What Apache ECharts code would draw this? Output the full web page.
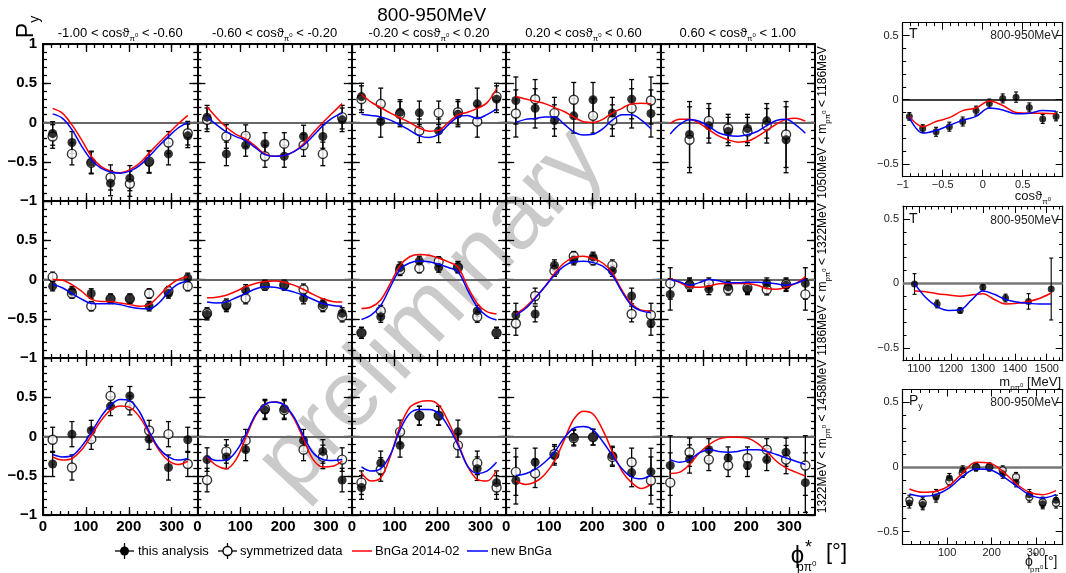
<!DOCTYPE html>
<html>
<head>
<meta charset="utf-8">
<script src="https://cdn.jsdelivr.net/npm/echarts@6/dist/echarts.min.js"></script>
<style>html,body{margin:0;padding:0;background:#fff}#chart{width:1066px;height:573px}</style>
</head>
<body>
<div id="chart"></div>
<script>
// ---------- data ----------
const phiBins = [22.5, 67.5, 112.5, 157.5, 202.5, 247.5, 292.5, 337.5];
const phiCurve = [22.5, 45, 67.5, 90, 112.5, 135, 157.5, 180, 202.5, 225, 247.5, 270, 292.5, 315, 337.5];
const cosEdges = ['-1.00', '-0.60', '-0.20', '0.20', '0.60', '1.00'];
const massEdges = ['1050', '1186', '1322', '1458'];

// 1050MeV < m < 1186MeV
const thisR1 = [
  [-0.14, -0.255, -0.505, -0.773, -0.709, -0.505, -0.40, -0.17],
  [0.068, -0.40, -0.29, -0.27, -0.43, -0.175, -0.178, 0.034],
  [0.33, 0.013, 0.13, 0.123, -0.106, 0.106, 0.238, 0.297],
  [0.28, 0.18, 0.025, 0.085, 0.29, 0.12, 0.297, 0.115],
  [null, -0.153, -0.042, -0.115, -0.076, 0.021, -0.22, null]
];
const symR1 = [
  [-0.178, -0.40, -0.514, -0.70, -0.78, -0.497, -0.255, -0.136],
  [0.034, -0.178, -0.17, -0.43, -0.27, -0.29, -0.40, 0.068],
  [0.297, 0.238, 0.106, -0.106, 0.123, 0.13, 0.013, 0.33],
  [0.115, 0.297, 0.12, 0.29, 0.085, 0.025, 0.18, 0.28],
  [null, -0.22, 0.021, -0.076, -0.115, -0.042, -0.153, null]
];
const errR1 = [
  [0.15, 0.14, 0.14, 0.16, 0.16, 0.14, 0.14, 0.15],
  [0.15, 0.15, 0.14, 0.14, 0.14, 0.14, 0.15, 0.15],
  [0.17, 0.2, 0.16, 0.15, 0.15, 0.16, 0.2, 0.17],
  [0.3, 0.25, 0.2, 0.22, 0.22, 0.2, 0.25, 0.3],
  [null, 0.42, 0.22, 0.18, 0.18, 0.22, 0.42, null]
];
const redR1 = [
  [0.18, 0.12, -0.03, -0.22, -0.43, -0.56, -0.62, -0.64, -0.60, -0.52, -0.39, -0.26, -0.14, -0.02, 0.09],
  [0.20, 0.06, -0.06, -0.15, -0.21, -0.30, -0.40, -0.43, -0.42, -0.37, -0.27, -0.13, 0.00, 0.12, 0.24],
  [0.36, 0.26, 0.19, 0.12, 0.06, 0.00, -0.07, -0.11, -0.10, 0.00, 0.10, 0.13, 0.18, 0.25, 0.43],
  [0.33, 0.30, 0.27, 0.24, 0.19, 0.14, 0.07, 0.01, 0.00, 0.04, 0.12, 0.18, 0.24, 0.245, 0.24],
  [-0.01, 0.04, 0.04, -0.01, -0.09, -0.17, -0.22, -0.25, -0.24, -0.18, -0.10, -0.02, 0.04, 0.055, 0.017]
];
const blueR1 = [
  [0.11, 0.055, -0.09, -0.30, -0.475, -0.58, -0.63, -0.645, -0.62, -0.55, -0.43, -0.30, -0.18, -0.07, 0.0],
  [0.07, -0.03, -0.12, -0.18, -0.23, -0.32, -0.41, -0.43, -0.42, -0.37, -0.29, -0.17, -0.04, 0.06, 0.12],
  [0.106, 0.09, 0.07, 0.03, -0.03, -0.10, -0.17, -0.19, -0.15, -0.03, 0.07, 0.09, 0.05, 0.10, 0.17],
  [0.0, 0.04, 0.05, 0.07, 0.07, -0.02, -0.12, -0.16, -0.15, -0.08, 0.03, 0.10, 0.10, 0.03, -0.08],
  [-0.145, -0.025, 0.034, 0.017, -0.05, -0.13, -0.165, -0.175, -0.157, -0.115, -0.04, 0.025, 0.04, -0.03, -0.136]
];

// 1186MeV < m < 1322MeV
const thisR2 = [
  [-0.085, -0.148, -0.178, -0.246, -0.246, -0.34, -0.178, 0.021],
  [-0.445, -0.34, -0.136, -0.068, -0.076, -0.24, -0.318, -0.43],
  [-0.68, -0.475, 0.153, 0.237, 0.153, 0.16, -0.4, -0.68],
  [-0.453, -0.44, 0.18, 0.246, 0.288, 0.11, -0.21, -0.56],
  [-0.19, -0.06, -0.123, -0.093, -0.123, -0.05, -0.072, -0.05]
];
const symR2 = [
  [0.034, -0.178, -0.34, -0.246, -0.246, -0.178, -0.148, -0.085],
  [-0.43, -0.318, -0.24, -0.076, -0.068, -0.127, -0.34, -0.47],
  [-0.68, -0.4, 0.12, 0.144, 0.23, 0.153, -0.475, -0.68],
  [-0.56, -0.21, 0.11, 0.297, 0.246, 0.18, -0.44, -0.453],
  [-0.05, -0.072, -0.05, -0.127, -0.106, -0.127, -0.06, -0.19]
];
const errR2 = [
  [0.06, 0.06, 0.06, 0.06, 0.06, 0.06, 0.06, 0.06],
  [0.07, 0.07, 0.07, 0.06, 0.06, 0.07, 0.07, 0.07],
  [0.07, 0.07, 0.07, 0.06, 0.06, 0.07, 0.07, 0.07],
  [0.15, 0.1, 0.07, 0.06, 0.06, 0.07, 0.1, 0.15],
  [0.2, 0.08, 0.07, 0.07, 0.07, 0.07, 0.08, 0.2]
];
const redR2 = [
  [0.0, -0.01, -0.065, -0.15, -0.25, -0.28, -0.28, -0.30, -0.32, -0.34, -0.32, -0.21, -0.085, 0.0, 0.034],
  [-0.233, -0.225, -0.20, -0.15, -0.093, -0.05, -0.025, -0.02, -0.034, -0.072, -0.127, -0.19, -0.246, -0.28, -0.288],
  [-0.37, -0.35, -0.26, -0.05, 0.18, 0.29, 0.32, 0.31, 0.27, 0.225, 0.16, -0.093, -0.305, -0.41, -0.44],
  [-0.44, -0.35, -0.23, -0.093, 0.076, 0.21, 0.28, 0.297, 0.267, 0.21, 0.085, -0.136, -0.31, -0.39, -0.40],
  [0.013, -0.04, -0.093, -0.10, -0.085, -0.055, -0.05, -0.05, -0.05, -0.072, -0.115, -0.123, -0.10, -0.05, 0.034]
];
const blueR2 = [
  [-0.06, -0.105, -0.178, -0.25, -0.305, -0.31, -0.305, -0.32, -0.35, -0.37, -0.375, -0.30, -0.16, -0.06, -0.02],
  [-0.288, -0.30, -0.284, -0.233, -0.178, -0.12, -0.093, -0.10, -0.127, -0.16, -0.20, -0.254, -0.305, -0.33, -0.34],
  [-0.51, -0.455, -0.33, -0.093, 0.127, 0.21, 0.237, 0.225, 0.195, 0.153, 0.10, -0.136, -0.35, -0.466, -0.517],
  [-0.453, -0.37, -0.24, -0.093, 0.055, 0.17, 0.225, 0.233, 0.216, 0.17, 0.055, -0.157, -0.33, -0.40, -0.424],
  [0.0, -0.03, -0.072, -0.04, 0.0, -0.017, -0.04, -0.04, -0.034, -0.034, -0.04, -0.055, -0.072, -0.05, 0.0]
];

// 1322MeV < m < 1458MeV
const thisR3 = [
  [-0.35, 0.03, 0.076, 0.386, 0.517, -0.034, -0.395, -0.042],
  [-0.294, -0.26, -0.168, 0.336, 0.353, -0.05, -0.19, -0.555],
  [-0.65, -0.336, -0.113, 0.265, 0.265, 0.059, -0.41, -0.588],
  [-0.56, -0.328, -0.244, -0.008, -0.008, -0.244, -0.46, -0.45],
  [-0.37, -0.286, -0.168, -0.273, -0.37, -0.294, -0.2, -0.588]
];
const symR3 = [
  [-0.042, -0.395, -0.034, 0.517, 0.395, 0.076, 0.03, -0.35],
  [-0.555, -0.19, -0.05, 0.353, 0.336, -0.168, -0.26, -0.294],
  [-0.588, -0.42, 0.059, 0.265, 0.265, -0.113, -0.336, -0.65],
  [-0.45, -0.47, -0.223, -0.02, -0.008, -0.26, -0.328, -0.56],
  [-0.588, -0.2, -0.294, -0.37, -0.273, -0.168, -0.294, -0.37]
];
const errR3 = [
  [0.16, 0.16, 0.13, 0.12, 0.12, 0.13, 0.16, 0.16],
  [0.15, 0.15, 0.14, 0.12, 0.12, 0.14, 0.15, 0.15],
  [0.15, 0.15, 0.15, 0.12, 0.12, 0.15, 0.15, 0.15],
  [0.3, 0.18, 0.12, 0.1, 0.1, 0.12, 0.18, 0.3],
  [0.38, 0.18, 0.14, 0.14, 0.14, 0.14, 0.18, 0.38]
];
const redR3 = [
  [-0.26, -0.30, -0.28, -0.17, 0.01, 0.20, 0.336, 0.39, 0.37, 0.25, 0.042, -0.17, -0.307, -0.357, -0.315],
  [-0.26, -0.37, -0.41, -0.294, -0.02, 0.26, 0.41, 0.44, 0.40, 0.23, -0.034, -0.294, -0.387, -0.38, -0.315],
  [-0.46, -0.567, -0.525, -0.25, 0.126, 0.37, 0.44, 0.454, 0.40, 0.19, -0.084, -0.378, -0.546, -0.567, -0.43],
  [-0.567, -0.61, -0.58, -0.483, -0.315, -0.05, 0.22, 0.323, 0.286, 0.084, -0.19, -0.44, -0.588, -0.664, -0.61],
  [-0.47, -0.454, -0.357, -0.21, -0.105, -0.034, -0.008, -0.008, -0.02, -0.084, -0.19, -0.315, -0.40, -0.454, -0.504]
];
const blueR3 = [
  [-0.23, -0.26, -0.245, -0.126, 0.05, 0.25, 0.40, 0.47, 0.454, 0.315, 0.063, -0.147, -0.26, -0.30, -0.28],
  [-0.25, -0.307, -0.30, -0.19, 0.02, 0.273, 0.41, 0.44, 0.40, 0.25, 0.008, -0.21, -0.294, -0.307, -0.294],
  [-0.387, -0.44, -0.41, -0.23, 0.084, 0.294, 0.345, 0.345, 0.294, 0.126, -0.105, -0.378, -0.47, -0.44, -0.328],
  [-0.496, -0.475, -0.42, -0.328, -0.20, -0.02, 0.105, 0.126, 0.084, -0.063, -0.244, -0.41, -0.517, -0.538, -0.49],
  [-0.294, -0.328, -0.294, -0.21, -0.168, -0.19, -0.20, -0.19, -0.168, -0.168, -0.19, -0.23, -0.273, -0.315, -0.357]
];

// T versus cos(theta)
const cosBins = [-0.917, -0.75, -0.583, -0.417, -0.25, -0.083, 0.083, 0.25, 0.417, 0.583, 0.75, 0.917];
const tCos = [-0.13, -0.225, -0.25, -0.21, -0.17, -0.085, -0.03, 0.01, 0.02, -0.06, -0.15, -0.13];
const tCosErr = [0.03, 0.03, 0.035, 0.035, 0.035, 0.035, 0.035, 0.035, 0.04, 0.035, 0.035, 0.035];
const tCosRed = [-0.13, -0.21, -0.17, -0.14, -0.085, -0.065, -0.01, -0.045, -0.10, -0.105, -0.105, -0.11];
const tCosBlue = [-0.14, -0.26, -0.24, -0.20, -0.16, -0.13, -0.065, -0.08, -0.11, -0.105, -0.085, -0.09];

// T versus invariant mass
const massBins = [1086, 1157, 1229, 1300, 1371, 1443, 1514];
const tMass = [-0.005, -0.16, -0.21, -0.031, -0.114, -0.14, -0.044];
const tMassErr = [0.08, 0.03, 0.02, 0.02, 0.03, 0.06, 0.24];
const massCurve = [1086, 1121, 1157, 1193, 1229, 1264, 1300, 1336, 1371, 1407, 1443, 1479, 1514];
const tMassRed = [-0.06, -0.065, -0.08, -0.09, -0.10, -0.09, -0.08, -0.125, -0.16, -0.155, -0.14, -0.115, -0.075];
const tMassBlue = [0.0, -0.11, -0.18, -0.21, -0.205, -0.13, -0.06, -0.085, -0.125, -0.145, -0.155, -0.16, -0.16];

// Py versus phi, integrated
const phiBins12 = [15, 45, 75, 105, 135, 165, 195, 225, 255, 285, 315, 345];
const pyPhi = [-0.278, -0.291, -0.232, -0.085, -0.026, 0.0, 0.0, -0.052, -0.119, -0.214, -0.284, -0.258];
const pyPhiSym = [-0.258, -0.278, -0.214, -0.11, -0.046, 0.0, 0.0, -0.026, -0.077, -0.232, -0.273, -0.278];
const pyPhiErr = [0.04, 0.04, 0.04, 0.035, 0.035, 0.03, 0.03, 0.035, 0.035, 0.04, 0.04, 0.04];
const pyPhiRed = [-0.17, -0.196, -0.188, -0.144, -0.046, 0.036, 0.031, -0.034, -0.129, -0.196, -0.214, -0.183];
const pyPhiBlue = [-0.209, -0.227, -0.214, -0.162, -0.072, -0.015, -0.021, -0.072, -0.144, -0.214, -0.24, -0.214];

// ---------- chart construction ----------
const FONT = '"Liberation Sans", Arial, Helvetica, sans-serif';
const grids = [], xAxes = [], yAxes = [], series = [], graphics = [];

function range(a, b, step) {
  const out = [];
  for (let v = a; v <= b + 1e-9; v += step) out.push(+v.toFixed(6));
  return out;
}
function minus(v) {
  if (v === 0) return '0';
  return v < 0 ? '\u2212' + String(Math.abs(v)) : String(v);
}

function addAxisSet(gi, dim, o) {
  const list = dim === 'x' ? xAxes : yAxes;
  const start = list.length;
  const pos = dim === 'x' ? ['bottom', 'top'] : ['left', 'right'];
  const line = { color: '#000', width: o.lineW };
  const tick = { color: '#000', width: o.tickW };
  const common = { gridIndex: gi, type: 'value', min: o.min, max: o.max, splitLine: { show: false }, silent: true };
  list.push(Object.assign({}, common, {
    position: pos[0], axisLine: { show: true, onZero: false, lineStyle: line },
    axisTick: { show: true, inside: true, length: o.majLen, customValues: o.major, lineStyle: tick },
    axisLabel: o.labels ? Object.assign({ show: true, customValues: o.labels, formatter: minus, margin: o.margin }, o.labelStyle) : { show: false }
  }));
  list.push(Object.assign({}, common, {
    position: pos[0], axisLine: { show: false, onZero: false },
    axisTick: { show: true, inside: true, length: o.minLen, customValues: o.minor, lineStyle: tick },
    axisLabel: { show: false }
  }));
  list.push(Object.assign({}, common, {
    position: pos[1], axisLine: { show: true, onZero: false, lineStyle: line },
    axisTick: { show: true, inside: true, length: o.majLen, customValues: o.major, lineStyle: tick },
    axisLabel: { show: false }
  }));
  list.push(Object.assign({}, common, {
    position: pos[1], axisLine: { show: false, onZero: false },
    axisTick: { show: true, inside: true, length: o.minLen, customValues: o.minor, lineStyle: tick },
    axisLabel: { show: false }
  }));
  return start;
}

function makeErrRender(cap, lw) {
  return function (params, api) {
    const x = api.value(0), y = api.value(1), e = api.value(2);
    const a = api.coord([x, y + e]), b = api.coord([x, y - e]);
    const st = { stroke: '#000', lineWidth: lw };
    return {
      type: 'group', children: [
        { type: 'line', shape: { x1: a[0], y1: a[1], x2: b[0], y2: b[1] }, style: st },
        { type: 'line', shape: { x1: a[0] - cap, y1: a[1], x2: a[0] + cap, y2: a[1] }, style: st },
        { type: 'line', shape: { x1: b[0] - cap, y1: b[1], x2: b[0] + cap, y2: b[1] }, style: st }
      ]
    };
  };
}

function pairs(xs, ys) {
  return xs.map((x, i) => (ys[i] == null ? null : [x, ys[i]])).filter(Boolean);
}
function triples(xs, ys, es) {
  return xs.map((x, i) => (ys[i] == null ? null : [x, ys[i], es[i]])).filter(Boolean);
}

function addPanelSeries(xi, yi, d, s) {
  const errData = triples(d.x, d.filled, d.err).concat(d.sym ? triples(d.x, d.sym, d.err) : []);
  series.push({
    type: 'custom', xAxisIndex: xi, yAxisIndex: yi, data: errData, z: 2, silent: true,
    renderItem: makeErrRender(s.cap, s.errW),
    markLine: {
      silent: true, symbol: 'none', z: 1, animation: false, label: { show: false },
      lineStyle: { color: s.zeroColor, width: s.zeroW, type: 'solid' }, data: [{ yAxis: 0 }]
    }
  });
  if (d.sym) {
    series.push({
      type: 'scatter', xAxisIndex: xi, yAxisIndex: yi, data: pairs(d.x, d.sym), z: 3, silent: true,
      symbol: 'circle', symbolSize: s.size, itemStyle: { color: '#fff', borderColor: '#000', borderWidth: 1.4 }
    });
  }
  series.push({
    type: 'scatter', xAxisIndex: xi, yAxisIndex: yi, data: pairs(d.x, d.filled), z: 4, silent: true,
    symbol: 'circle', symbolSize: s.size, itemStyle: { color: '#000' }
  });
  [[d.red, '#ff0000'], [d.blue, '#0000ff']].forEach(([ys, col]) => {
    series.push({
      type: 'line', xAxisIndex: xi, yAxisIndex: yi, data: pairs(d.cx, ys), z: 5, silent: true,
      smooth: 0.35, symbol: 'none', lineStyle: { color: col, width: 1.5 }
    });
  });
}

// main 3 x 5 panel matrix
const rows = [
  { filled: thisR1, sym: symR1, err: errR1, red: redR1, blue: blueR1 },
  { filled: thisR2, sym: symR2, err: errR2, red: redR2, blue: blueR2 },
  { filled: thisR3, sym: symR3, err: errR3, red: redR3, blue: blueR3 }
];
const P = { left: 43, top: 44, w: 154.4, h: 157 };
const mainLabelStyle = { fontSize: 15, fontWeight: 'bold', fontFamily: FONT, color: '#000' };

rows.forEach((row, r) => {
  for (let c = 0; c < 5; c++) {
    const gi = grids.length;
    grids.push({ left: P.left + P.w * c, top: P.top + P.h * r, width: P.w, height: P.h, outerBoundsMode: 'none' });
    const xi = addAxisSet(gi, 'x', {
      min: 0, max: 360, major: [0, 100, 200, 300], minor: range(20, 340, 20),
      labels: r === 2 ? [0, 100, 200, 300] : null, labelStyle: mainLabelStyle, margin: 4,
      lineW: 2, tickW: 1.3, majLen: 8, minLen: 4
    });
    const yi = addAxisSet(gi, 'y', {
      min: -1, max: 1, major: [-1, -0.5, 0, 0.5, 1], minor: range(-0.9, 0.9, 0.1),
      labels: c === 0 ? (r === 0 ? [-1, -0.5, 0, 0.5, 1] : [-1, -0.5, 0, 0.5]) : null,
      labelStyle: mainLabelStyle, margin: 6,
      lineW: 2, tickW: 1.3, majLen: 8, minLen: 4
    });
    addPanelSeries(xi, yi, {
      x: phiBins, cx: phiCurve, filled: row.filled[c], sym: row.sym[c], err: row.err[c],
      red: row.red[c], blue: row.blue[c]
    }, { size: 9, cap: 2.5, errW: 1.3, zeroColor: '#666', zeroW: 2 });
  }
});

// side panels
const sideLabelStyle = { fontSize: 11, fontFamily: FONT, color: '#222' };
const sideY = {
  min: -0.6, max: 0.6, major: [-0.5, 0, 0.5], minor: range(-0.4, 0.4, 0.1).filter(v => v !== 0),
  labels: [-0.5, 0, 0.5], labelStyle: sideLabelStyle, margin: 4, lineW: 1.2, tickW: 1, majLen: 7, minLen: 3.5
};
const sides = [
  {
    box: [902.7, 22.7, 160, 154],
    x: { min: -1, max: 1, major: [-1, -0.5, 0, 0.5, 1], minor: range(-0.9, 0.9, 0.1).filter(v => Math.abs(v % 0.5) > 1e-6), labels: [-1, -0.5, 0, 0.5] },
    d: { x: cosBins, cx: cosBins, filled: tCos, sym: null, err: tCosErr, red: tCosRed, blue: tCosBlue },
    zero: ['#000', 1.5]
  },
  {
    box: [903, 206, 159.7, 154.7],
    x: { min: 1050, max: 1550, major: [1100, 1200, 1300, 1400, 1500], minor: range(1060, 1540, 20).filter(v => v % 100 !== 0), labels: [1100, 1200, 1300, 1400, 1500] },
    d: { x: massBins, cx: massCurve, filled: tMass, sym: null, err: tMassErr, red: tMassRed, blue: tMassBlue },
    zero: ['#777', 2.5]
  },
  {
    box: [902.7, 389.5, 160, 155],
    x: { min: 0, max: 360, major: [0, 100, 200, 300], minor: range(20, 340, 20).filter(v => v % 100 !== 0), labels: [100, 200, 300] },
    d: { x: phiBins12, cx: phiBins12, filled: pyPhi, sym: pyPhiSym, err: pyPhiErr, red: pyPhiRed, blue: pyPhiBlue },
    zero: ['#777', 2.5]
  }
];
sides.forEach(sd => {
  const gi = grids.length;
  grids.push({ left: sd.box[0], top: sd.box[1], width: sd.box[2], height: sd.box[3], outerBoundsMode: 'none' });
  const xi = addAxisSet(gi, 'x', Object.assign({ labelStyle: sideLabelStyle, margin: 3, lineW: 1.2, tickW: 1, majLen: 7, minLen: 3.5 }, sd.x));
  const yi = addAxisSet(gi, 'y', sideY);
  addPanelSeries(xi, yi, sd.d, { size: 7, cap: 2, errW: 1.1, zeroColor: sd.zero[0], zeroW: sd.zero[1] });
});

// ---------- text ----------
function txt(x, y, text, rich, extra) {
  return Object.assign({
    type: 'text', x: x, y: y, silent: true, z: 10,
    style: { text: text, rich: rich, align: 'center', verticalAlign: 'middle', fill: '#000' }
  }, extra || {});
}
const subRich = (main, sub, sup) => ({
  t: { fontSize: main, fontFamily: FONT, fill: '#000', verticalAlign: 'bottom', padding: [0, 0, Math.round(main * 0.25), 0] },
  s: { fontSize: sub, fontFamily: FONT, fill: '#000', verticalAlign: 'bottom', padding: [0, 0, 0, 0] },
  z: { fontSize: sup, fontFamily: FONT, fill: '#000', verticalAlign: 'bottom', padding: [0, 0, Math.round(sub * 0.5), 0] }
});

// watermark
graphics.push({
  type: 'text', x: 432, y: 312, rotation: 0.82, silent: true, z: 0,
  style: { text: 'preliminary', font: '94px "Liberation Sans", Arial, sans-serif', fill: 'rgba(150,150,150,0.5)', align: 'center', verticalAlign: 'middle' }
});

// title
graphics.push(txt(431.7, 15.5, '800-950MeV', null, { style: { text: '800-950MeV', font: '19px "Liberation Sans", Arial, sans-serif', fill: '#000', align: 'center', verticalAlign: 'middle' } }));

// Py axis title
graphics.push(txt(29, 27, '{t|P}{s|y}', {
  t: { fontSize: 23, fontFamily: FONT, fill: '#000', verticalAlign: 'bottom', padding: [0, 0, 4, 0] },
  s: { fontSize: 14, fontFamily: FONT, fill: '#000', verticalAlign: 'bottom' }
}, { rotation: Math.PI / 2 }));

// column titles
for (let c = 0; c < 5; c++) {
  graphics.push(txt(P.left + P.w * c + P.w / 2, 34.5,
    `{t|${cosEdges[c]} < cos\u03D1}{s|\u03C0}{z|0}{t| < ${cosEdges[c + 1]}}`, subRich(13, 8, 6)));
}
// row titles
for (let r = 0; r < 3; r++) {
  graphics.push(txt(824, P.top + P.h * r + P.h / 2,
    `{t|${massEdges[r]}MeV < m}{s|p\u03C0}{z|0}{t| < ${massEdges[r + 1]}MeV}`, subRich(12, 8, 6),
    { rotation: Math.PI / 2 }));
}

// main phi axis title
const bigF = '"Liberation Sans", Arial, sans-serif';
graphics.push({ type: 'text', x: 797.5, y: 556, silent: true, z: 10, style: { text: '\u03D5', font: '24px ' + bigF, fill: '#000', align: 'center', verticalAlign: 'middle' } });
graphics.push({ type: 'text', x: 805, y: 548, silent: true, z: 10, style: { text: '*', font: '18px ' + bigF, fill: '#000', align: 'left', verticalAlign: 'middle' } });
graphics.push({ type: 'text', x: 797, y: 567, silent: true, z: 10, style: { text: '{s|p\u03C0}{z|0}', rich: { s: { fontSize: 12, fontFamily: FONT, fill: '#000', verticalAlign: 'bottom' }, z: { fontSize: 8, fontFamily: FONT, fill: '#000', verticalAlign: 'bottom', padding: [0, 0, 6, 0] } }, align: 'left', verticalAlign: 'middle' } });
graphics.push({ type: 'text', x: 826, y: 553, silent: true, z: 10, style: { text: '[\u00B0]', font: '22px ' + bigF, fill: '#000', align: 'left', verticalAlign: 'middle' } });

// legend
const LY = 551;
const lineSt = (c, w) => ({ stroke: c, lineWidth: w });
graphics.push({ type: 'line', silent: true, z: 10, shape: { x1: 115, y1: LY, x2: 134, y2: LY }, style: lineSt('#000', 1.3) });
graphics.push({ type: 'line', silent: true, z: 10, shape: { x1: 124.5, y1: LY - 8, x2: 124.5, y2: LY + 8 }, style: lineSt('#000', 1.3) });
graphics.push({ type: 'circle', silent: true, z: 11, shape: { cx: 124.5, cy: LY, r: 4.5 }, style: { fill: '#000' } });
graphics.push({ type: 'text', x: 138, y: LY, silent: true, z: 10, style: { text: 'this analysis', font: '13px ' + bigF, fill: '#000', align: 'left', verticalAlign: 'middle' } });
graphics.push({ type: 'line', silent: true, z: 10, shape: { x1: 218, y1: LY, x2: 237, y2: LY }, style: lineSt('#000', 1.3) });
graphics.push({ type: 'line', silent: true, z: 10, shape: { x1: 227.5, y1: LY - 8, x2: 227.5, y2: LY + 8 }, style: lineSt('#000', 1.3) });
graphics.push({ type: 'circle', silent: true, z: 11, shape: { cx: 227.5, cy: LY, r: 4.5 }, style: { fill: '#fff', stroke: '#000', lineWidth: 1.4 } });
graphics.push({ type: 'text', x: 240, y: LY, silent: true, z: 10, style: { text: 'symmetrized data', font: '13px ' + bigF, fill: '#000', align: 'left', verticalAlign: 'middle' } });
graphics.push({ type: 'line', silent: true, z: 10, shape: { x1: 352, y1: LY, x2: 372, y2: LY }, style: lineSt('#ff0000', 1.5) });
graphics.push({ type: 'text', x: 375, y: LY, silent: true, z: 10, style: { text: 'BnGa 2014-02', font: '13px ' + bigF, fill: '#000', align: 'left', verticalAlign: 'middle' } });
graphics.push({ type: 'line', silent: true, z: 10, shape: { x1: 467, y1: LY, x2: 488, y2: LY }, style: lineSt('#0000ff', 1.5) });
graphics.push({ type: 'text', x: 491, y: LY, silent: true, z: 10, style: { text: 'new BnGa', font: '13px ' + bigF, fill: '#000', align: 'left', verticalAlign: 'middle' } });

// side panel annotations
const sideTexts = [
  { y: 36, label: '{t|T}' },
  { y: 221, label: '{t|T}' },
  { y: 403, label: '{t|P}{s|y}' }
];
sideTexts.forEach(st => {
  graphics.push({ type: 'text', x: 909, y: st.y, silent: true, z: 10, style: { text: st.label, rich: {
    t: { fontSize: 14, fontFamily: FONT, fill: '#111', verticalAlign: 'bottom', padding: [0, 0, 3, 0] },
    s: { fontSize: 9, fontFamily: FONT, fill: '#111', verticalAlign: 'bottom' }
  }, align: 'left', verticalAlign: 'middle' } });
  graphics.push({ type: 'text', x: 1059, y: st.y, silent: true, z: 10, style: { text: '800-950MeV', font: '12px ' + bigF, fill: '#222', align: 'right', verticalAlign: 'middle' } });
});
const smallRich = {
  t: { fontSize: 13, fontFamily: FONT, fill: '#111', verticalAlign: 'bottom', padding: [0, 0, 3, 0] },
  s: { fontSize: 8, fontFamily: FONT, fill: '#111', verticalAlign: 'bottom' },
  z: { fontSize: 6, fontFamily: FONT, fill: '#111', verticalAlign: 'bottom', padding: [0, 0, 4, 0] }
};
graphics.push({ type: 'text', x: 1051, y: 198, silent: true, z: 10, style: { text: '{t|cos\u03D1}{s|\u03C0}{z|0}', rich: smallRich, align: 'right', verticalAlign: 'middle' } });
graphics.push({ type: 'text', x: 1061, y: 384, silent: true, z: 10, style: { text: '{t|m}{s|p\u03C0}{z|0}{t| [MeV]}', rich: smallRich, align: 'right', verticalAlign: 'middle' } });
graphics.push({ type: 'text', x: 1029, y: 562, silent: true, z: 10, style: { text: '\u03D5', font: '14px ' + bigF, fill: '#111', align: 'center', verticalAlign: 'middle' } });
graphics.push({ type: 'text', x: 1033, y: 557, silent: true, z: 10, style: { text: '*', font: '10px ' + bigF, fill: '#111', align: 'left', verticalAlign: 'middle' } });
graphics.push({ type: 'text', x: 1030, y: 569, silent: true, z: 10, style: { text: '{s|p\u03C0}{z|0}', rich: {
  s: { fontSize: 8, fontFamily: FONT, fill: '#111', verticalAlign: 'bottom' },
  z: { fontSize: 6, fontFamily: FONT, fill: '#111', verticalAlign: 'bottom', padding: [0, 0, 4, 0] }
}, align: 'left', verticalAlign: 'middle' } });
graphics.push({ type: 'text', x: 1044, y: 562, silent: true, z: 10, style: { text: '[\u00B0]', font: '14px ' + bigF, fill: '#111', align: 'left', verticalAlign: 'middle' } });

const chart = echarts.init(document.getElementById('chart'), null, { renderer: 'canvas' });
chart.setOption({
  animation: false,
  backgroundColor: '#fff',
  grid: grids,
  xAxis: xAxes,
  yAxis: yAxes,
  series: series,
  graphic: { elements: graphics }
});
</script>
</body>
</html>
